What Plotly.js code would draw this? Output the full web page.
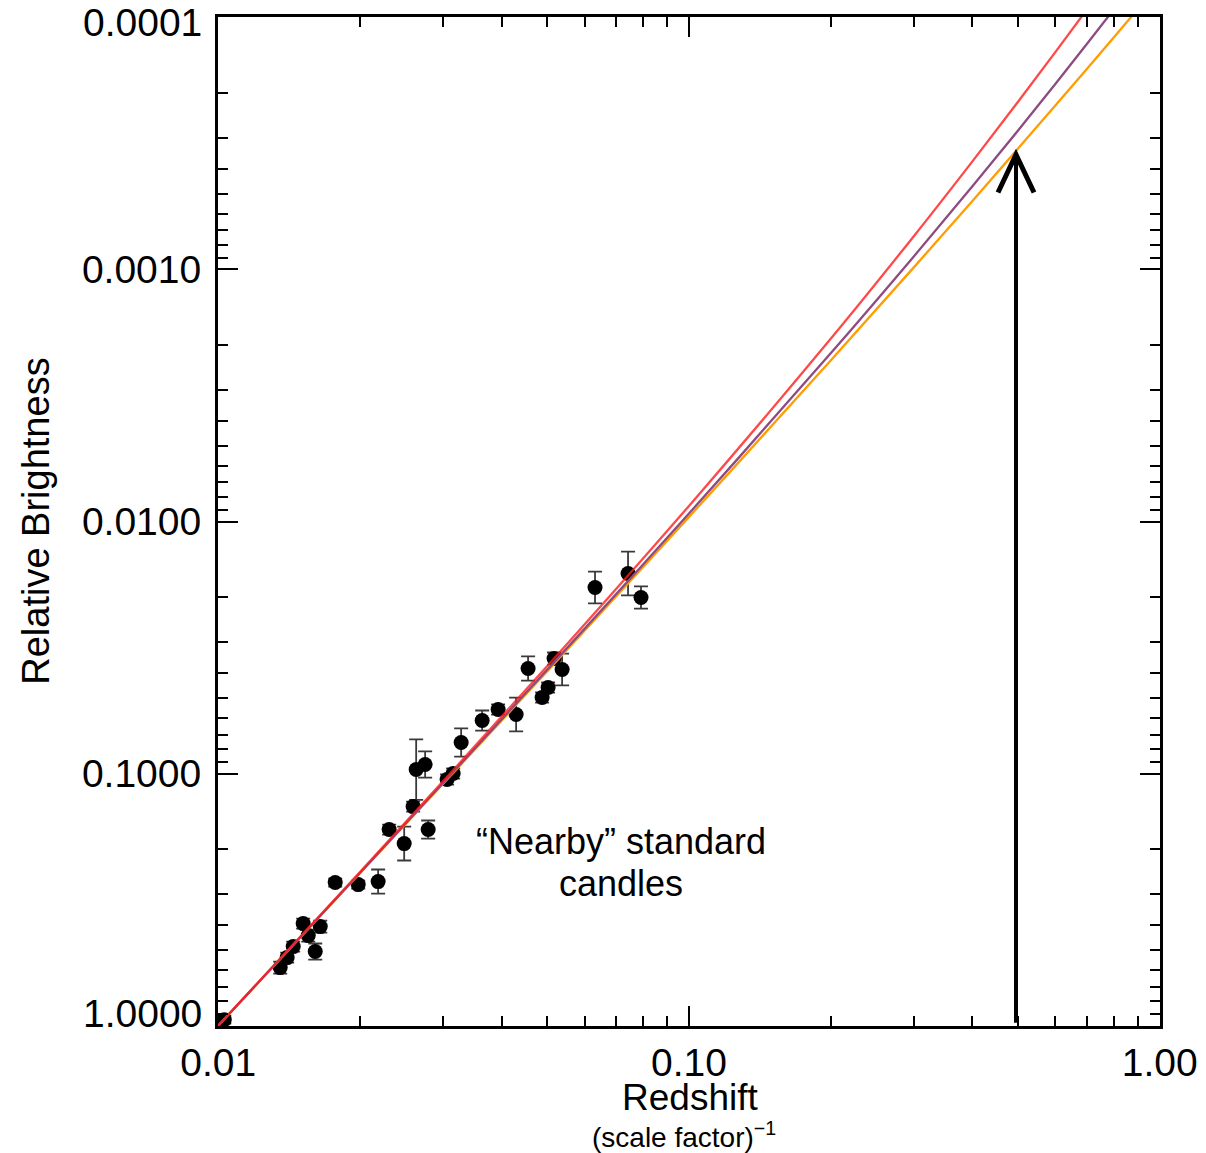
<!DOCTYPE html>
<html>
<head>
<meta charset="utf-8">
<script src="https://cdn.plot.ly/plotly-3.0.1.min.js"></script>
<style>html,body{margin:0;padding:0;background:#fff;}#chart{width:1206px;height:1153px;}</style>
</head>
<body>
<div id="chart"></div>
<script>
// ---- Data ----
// Supernova ("nearby standard candles") points
const snRedshift = [0.0103, 0.01354, 0.01401, 0.01443, 0.01515, 0.01553, 0.01607, 0.01647, 0.01772, 0.01983,
  0.02186, 0.02307, 0.02483, 0.02594, 0.02633, 0.02751, 0.02792, 0.03063, 0.03155, 0.03281,
  0.03636, 0.03931, 0.04293, 0.04552, 0.04875, 0.05020, 0.05169, 0.05376, 0.06315, 0.07422, 0.07908];
const snBrightness = [0.947, 0.5886, 0.5373, 0.4859, 0.3938, 0.4394, 0.5084, 0.4047, 0.2707, 0.2757,
  0.2683, 0.1668, 0.1896, 0.1352, 0.09641, 0.09211, 0.1668, 0.1056, 0.1000, 0.07532,
  0.06162, 0.05572, 0.05832, 0.03831, 0.04993, 0.04557, 0.03497, 0.03867, 0.01827, 0.01608, 0.02002];
// error bar half-size in decades (log10 units)
const snErrDex = [0.016, 0.024, 0.02, 0.02, 0.02, 0.024, 0.032, 0.024, 0.016, 0.016,
  0.048, 0.02, 0.067, 0.02, 0.12, 0.052, 0.036, 0.02, 0.02, 0.056,
  0.04, 0.02, 0.067, 0.048, 0.02, 0.02, 0.024, 0.063, 0.063, 0.087, 0.044];

// Model curves
const redZ = [0.01, 0.02, 0.05, 0.1, 0.2, 0.3, 0.4, 0.5, 0.6, 0.7];
const redB = [1, 0.2459, 0.03747, 0.008672, 0.001884, 0.0007397, 0.0003725, 0.0002160, 0.0001373, 0.00009316];
const purpleZ = [0.01, 0.02, 0.05, 0.1, 0.2, 0.3, 0.4, 0.5, 0.6, 0.7, 0.8];
const purpleB = [1, 0.2479, 0.03869, 0.009291, 0.002152, 0.000890, 0.0004681, 0.0002811, 0.0001839, 0.0001276, 0.00009261];
const orangeZ = [0.01, 0.02, 0.05, 0.1, 0.2, 0.3, 0.4, 0.5, 0.6, 0.7, 0.8, 0.9];
const orangeB = [1, 0.2488, 0.03924, 0.009588, 0.002298, 0.0009836, 0.0005346, 0.0003316, 0.0002238, 0.0001601, 0.0001196, 0.00009235];

// Axis ticks (the two end labels of the y axis are drawn as annotations, set just inside the frame)
const xTickVals = [0.01, 0.1, 1];
const xTickText = ['0.01', '0.10', '1.00'];
const xMinorVals = [0.02,0.03,0.04,0.05,0.06,0.07,0.08,0.09,0.2,0.3,0.4,0.5,0.6,0.7,0.8,0.9];
const yTickVals = [1, 0.1, 0.01, 0.001, 0.0001];
const yTickText = ['', '0.1000', '0.0100', '0.0010', ''];
const yEndVals = [1, 0.0001];
const yEndText = ['1.0000', '0.0001'];
const yEndShift = [12, -5];
const yMinorVals = [];
[0.0001, 0.001, 0.01, 0.1].forEach(d => { for (let k = 2; k <= 9; k++) yMinorVals.push(+(d * k).toPrecision(3)); });

// Arrow marker (redshift, brightness at tip / base)
const arrowZ = 0.495;
const arrowTipB = 0.00035;
const arrowBaseB = 0.973;

// Texts
const xTitle = 'Redshift';
const xSubTitle = '(scale factor)<sup>−1</sup>';
const yTitle = 'Relative Brightness';
const noteLine1 = '“Nearby” standard';
const noteLine2 = 'candles';

// ---- Drawing ----
const FONT = '"Liberation Sans", Arial, Helvetica, sans-serif';
const xRange = [-2.0005, 0.0005];
const yRange = [0.0015, -4.0015];
const px = z => (Math.log10(z) - xRange[0]) / (xRange[1] - xRange[0]);
const py = b => (Math.log10(b) - yRange[0]) / (yRange[1] - yRange[0]);

const errPlus = snBrightness.map((b, i) => b * (Math.pow(10, snErrDex[i]) - 1));
const errMinus = snBrightness.map((b, i) => b * (1 - Math.pow(10, -snErrDex[i])));

const traces = [
  {
    x: snRedshift, y: snBrightness, type: 'scatter', mode: 'markers',
    marker: {color: '#000', size: 15, line: {width: 0}},
    error_y: {type: 'data', symmetric: false, array: errPlus, arrayminus: errMinus,
              color: '#3a3a3a', thickness: 1.8, width: 7},
    hoverinfo: 'skip'
  },
  {x: orangeZ, y: orangeB, type: 'scatter', mode: 'lines', line: {color: '#ff9d00', width: 2.3, shape: 'spline'}},
  {x: purpleZ, y: purpleB, type: 'scatter', mode: 'lines', line: {color: '#8e4a82', width: 2.3, shape: 'spline'}},
  {x: redZ, y: redB, type: 'scatter', mode: 'lines', opacity: 0.8, line: {color: '#ff1c1c', width: 2.3, shape: 'spline'}}
];

const axisCommon = {
  type: 'log', tickmode: 'array', ticks: 'inside', ticklen: 20, tickwidth: 2, tickcolor: '#000',
  showline: true, linewidth: 3, linecolor: '#000', mirror: 'ticks', showgrid: false, zeroline: false,
  tickfont: {family: FONT, size: 39, color: '#000'}
};

const tickFont = {family: FONT, size: 39, color: '#000'};
const annotations = [
  {text: xTitle, xref: 'paper', yref: 'paper', x: 0.501, y: -0.071, xanchor: 'center', yanchor: 'middle',
   showarrow: false, font: {family: FONT, size: 37, color: '#000'}},
  {text: xSubTitle, xref: 'paper', yref: 'paper', x: 0.495, y: -0.108, xanchor: 'center', yanchor: 'middle',
   showarrow: false, font: {family: FONT, size: 28, color: '#000'}},
  {text: yTitle, xref: 'paper', yref: 'paper', x: -0.194, y: 0.5, xanchor: 'center', yanchor: 'middle',
   textangle: -90, showarrow: false, font: {family: FONT, size: 38, color: '#000'}},
  {text: noteLine1, xref: 'paper', yref: 'paper', x: 0.428, y: 0.183, xanchor: 'center', yanchor: 'middle',
   showarrow: false, font: {family: FONT, size: 36, color: '#000'}},
  {text: noteLine2, xref: 'paper', yref: 'paper', x: 0.428, y: 0.141, xanchor: 'center', yanchor: 'middle',
   showarrow: false, font: {family: FONT, size: 36, color: '#000'}}
];
yEndVals.forEach((v, i) => annotations.push({
  text: yEndText[i], xref: 'paper', yref: 'paper', x: 0, y: py(v), xanchor: 'right', yanchor: 'middle',
  xshift: -14, yshift: yEndShift[i], showarrow: false, font: tickFont
}));

const layout = {
  width: 1206, height: 1153,
  margin: {l: 218, r: 46, t: 17, b: 127},
  paper_bgcolor: '#fff', plot_bgcolor: '#fff',
  showlegend: false,
  font: {family: FONT, color: '#000'},
  xaxis: Object.assign({}, axisCommon, {
    range: xRange, tickvals: xTickVals, ticktext: xTickText, ticklabelstandoff: 0, ticklabeloverflow: 'allow',
    minor: {tickmode: 'array', tickvals: xMinorVals, ticks: 'inside', ticklen: 10, tickwidth: 2, tickcolor: '#000', showgrid: false}
  }),
  yaxis: Object.assign({}, axisCommon, {
    range: yRange, tickvals: yTickVals, ticktext: yTickText, ticklabelstandoff: 6,
    minor: {tickmode: 'array', tickvals: yMinorVals, ticks: 'inside', ticklen: 10, tickwidth: 2, tickcolor: '#000', showgrid: false}
  }),
  shapes: [
    {type: 'line', xref: 'paper', yref: 'paper', x0: px(arrowZ), x1: px(arrowZ), y0: py(arrowBaseB), y1: py(arrowTipB),
     line: {color: '#000', width: 4}},
    {type: 'path', xref: 'paper', yref: 'paper', xsizemode: 'pixel', ysizemode: 'pixel',
     xanchor: px(arrowZ), yanchor: py(arrowTipB), path: 'M -18,-38 L 0,0 L 18,-38',
     line: {color: '#000', width: 5}}
  ],
  annotations: annotations
};

Plotly.newPlot('chart', traces, layout, {displayModeBar: false, staticPlot: true});
</script>
</body>
</html>
